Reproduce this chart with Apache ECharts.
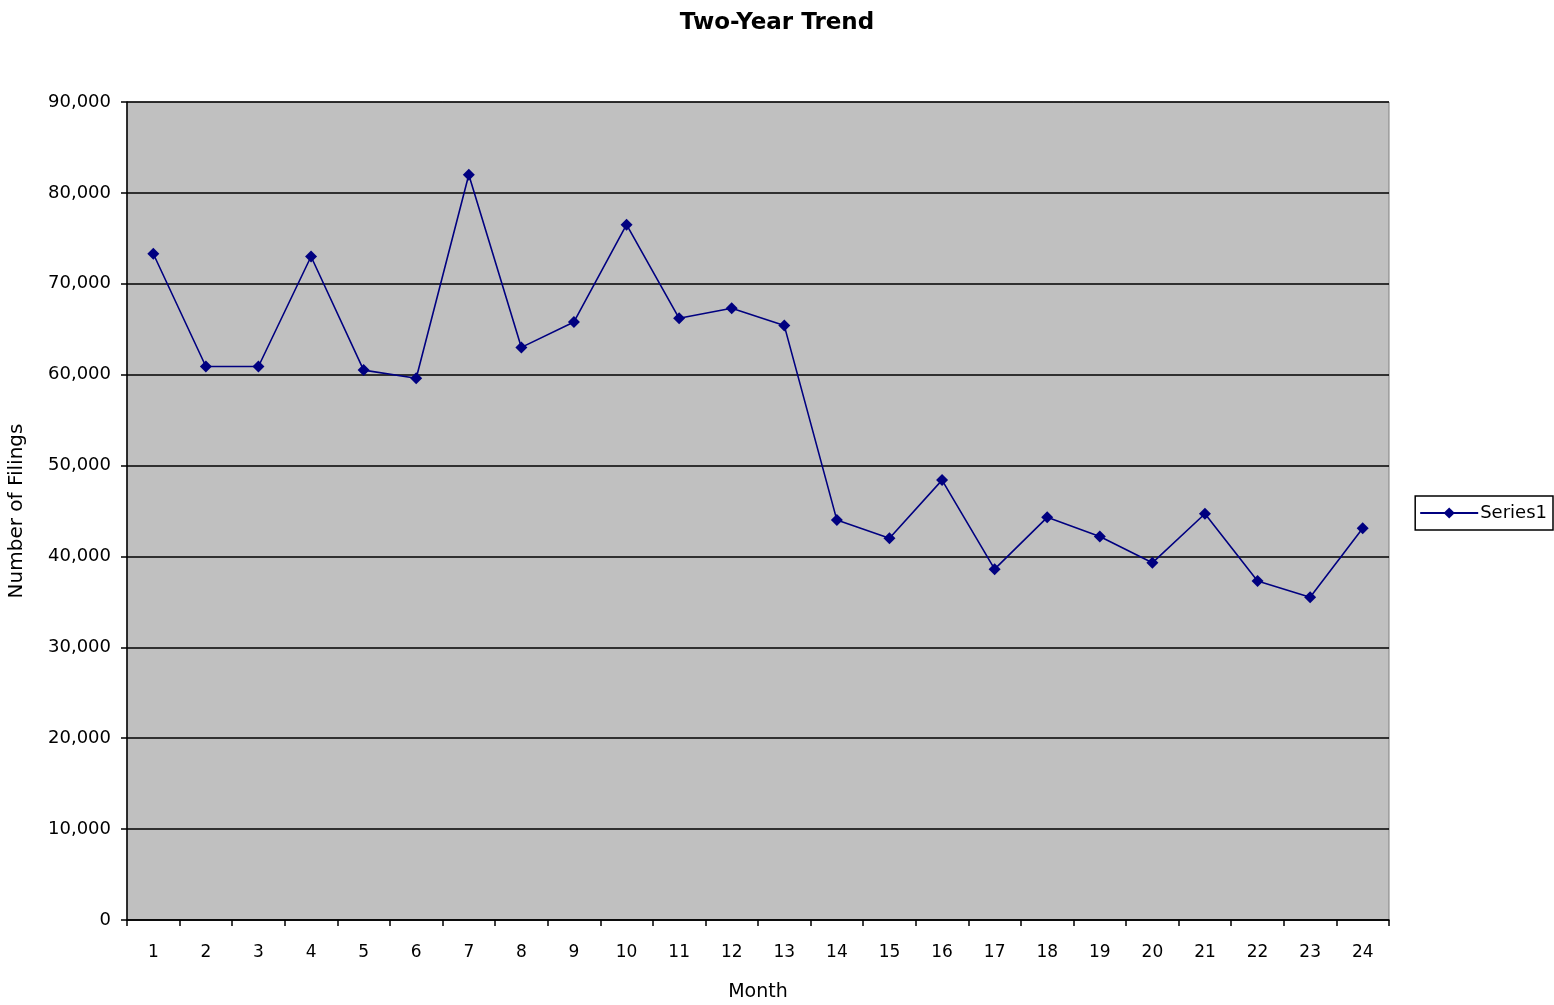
<!DOCTYPE html>
<html>
<head>
<meta charset="utf-8">
<title>Two-Year Trend</title>
<script src="https://cdn.jsdelivr.net/npm/echarts@6/dist/echarts.min.js"></script>
<style>
  html, body { margin: 0; padding: 0; background: #fff; }
  #chart { width: 1554px; height: 1005px; }
</style>
</head>
<body>
<div id="chart"></div>
<script>
// month numbers on the category axis
var months = ["1","2","3","4","5","6","7","8","9","10","11","12",
              "13","14","15","16","17","18","19","20","21","22","23","24"];
// filings per month
var filings = [73300, 60900, 60900, 73000, 60500, 59600, 82000, 63000,
               65800, 76500, 66200, 67300, 65400, 44000, 42000, 48400,
               38600, 44300, 42200, 39300, 44700, 37300, 35500, 43100];

var font = "'DejaVu Sans', Verdana, sans-serif";

var myChart = echarts.init(document.getElementById("chart"));
var option = {
    animation: false,
    title: {
        text: "Two-Year Trend",
        left: "center",
        top: 7,
        textStyle: { fontFamily: font, fontSize: 23, fontWeight: "bold", color: "#000" }
    },
    legend: {
        data: ["Series1"],
        right: 1,
        top: 496,
        orient: "vertical",
        backgroundColor: "#fff",
        borderColor: "#000",
        borderWidth: 1.5,
        borderRadius: 0,
        padding: [8, 6, 8, 4],
        itemWidth: 58,
        itemHeight: 14,
        itemGap: 4,
        textStyle: { fontFamily: font, fontSize: 18, color: "#000", padding: [0, 0, 0, -3] }
    },
    grid: {
        left: 127,
        right: 165,
        top: 102,
        bottom: 85,
        outerBoundsMode: "none",
        show: true,
        backgroundColor: "#C0C0C0",
        borderColor: "#808080",
        borderWidth: 1
    },
    xAxis: {
        type: "category",
        data: months,
        boundaryGap: true,
        name: "Month",
        nameLocation: "middle",
        nameGap: 63,
        nameTextStyle: { fontFamily: font, fontSize: 19, color: "#000" },
        axisLine: { lineStyle: { color: "#000", width: 1.5 } },
        axisTick: { show: true, length: 6, lineStyle: { color: "#000", width: 1.5 } },
        axisLabel: { fontFamily: font, fontSize: 17, color: "#000", margin: 24, interval: 0 },
        splitLine: { show: false }
    },
    yAxis: {
        type: "value",
        min: 0,
        max: 90000,
        interval: 10000,
        name: "Number of Filings",
        nameLocation: "middle",
        nameGap: 100,
        nameTextStyle: { fontFamily: font, fontSize: 20, color: "#000" },
        axisLine: { show: true, lineStyle: { color: "#000", width: 1.5 } },
        axisTick: { show: true, length: 6, lineStyle: { color: "#000", width: 1.5 } },
        axisLabel: {
            fontFamily: font, fontSize: 18, color: "#000", margin: 16,
            formatter: function (v) { return v === 0 ? "0" : v.toLocaleString("en-US"); }
        },
        splitLine: { show: true, lineStyle: { color: "#000", width: 1.5 } }
    },
    series: [{
        name: "Series1",
        type: "line",
        data: filings,
        symbol: "diamond",
        symbolSize: 12,
        lineStyle: { color: "#000080", width: 1.6 },
        itemStyle: { color: "#000080" }
    }]
};
myChart.setOption(option);
</script>
</body>
</html>
